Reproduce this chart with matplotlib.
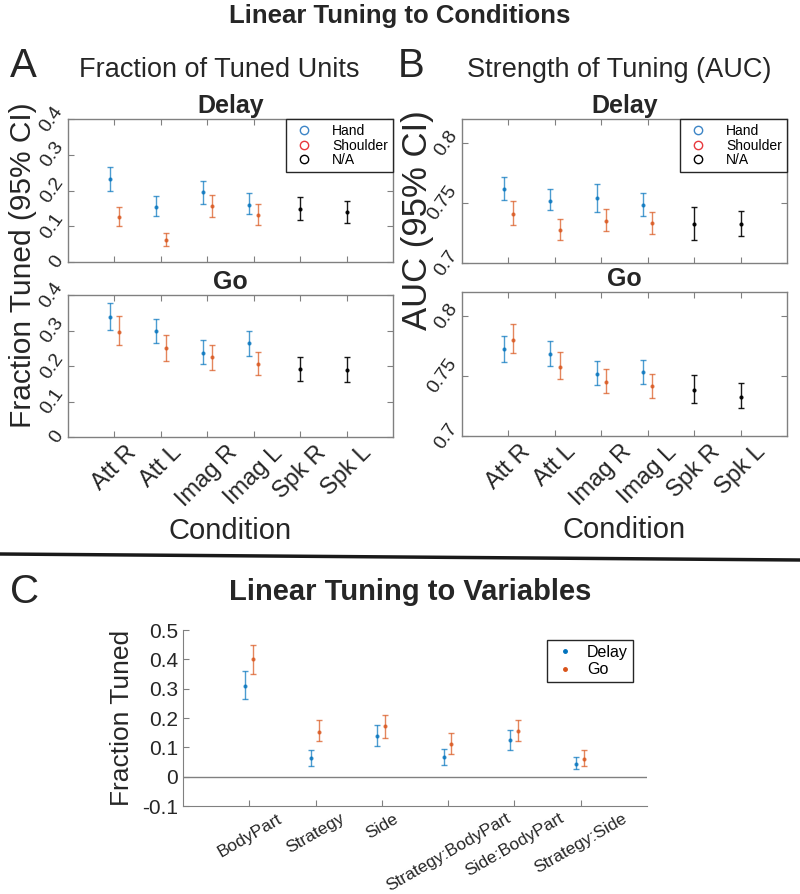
import numpy as np
import matplotlib
matplotlib.use("Agg")
import matplotlib.pyplot as plt
from matplotlib.lines import Line2D

plt.rcParams["font.family"] = ["Liberation Sans", "DejaVu Sans"]

# ---- data ----
conditions = ["Att R", "Att L", "Imag R", "Imag L", "Spk R", "Spk L"]

# fraction tuned, delay (hand / shoulder for first 4, N/A for speech)
frac_delay_hand = [0.231, 0.155, 0.195, 0.160]
frac_delay_hand_lo = [0.200, 0.129, 0.162, 0.133]
frac_delay_hand_hi = [0.267, 0.185, 0.227, 0.192]
frac_delay_sh = [0.125, 0.061, 0.156, 0.131]
frac_delay_sh_lo = [0.100, 0.044, 0.126, 0.103]
frac_delay_sh_hi = [0.153, 0.082, 0.188, 0.161]
frac_delay_na = [0.147, 0.139]
frac_delay_na_lo = [0.117, 0.110]
frac_delay_na_hi = [0.181, 0.172]

frac_go_hand = [0.337, 0.299, 0.237, 0.264]
frac_go_hand_lo = [0.301, 0.264, 0.205, 0.227]
frac_go_hand_hi = [0.377, 0.333, 0.273, 0.298]
frac_go_sh = [0.297, 0.252, 0.225, 0.207]
frac_go_sh_lo = [0.258, 0.214, 0.190, 0.176]
frac_go_sh_hi = [0.340, 0.287, 0.258, 0.240]
frac_go_na = [0.192, 0.188]
frac_go_na_lo = [0.157, 0.156]
frac_go_na_hi = [0.226, 0.225]

auc_delay_hand = [0.7613, 0.7520, 0.7538, 0.7484]
auc_delay_hand_lo = [0.7525, 0.7440, 0.7429, 0.7393]
auc_delay_hand_hi = [0.7714, 0.7618, 0.7657, 0.7580]
auc_delay_sh = [0.7410, 0.7275, 0.7354, 0.7330]
auc_delay_sh_lo = [0.7313, 0.7195, 0.7269, 0.7239]
auc_delay_sh_hi = [0.7516, 0.7365, 0.7453, 0.7429]
auc_delay_na = [0.7321, 0.7321]
auc_delay_na_lo = [0.7195, 0.7223]
auc_delay_na_hi = [0.7467, 0.7434]

auc_go_hand = [0.7725, 0.7680, 0.7519, 0.7531]
auc_go_hand_lo = [0.7620, 0.7583, 0.7428, 0.7433]
auc_go_hand_hi = [0.7836, 0.7789, 0.7625, 0.7633]
auc_go_sh = [0.7803, 0.7578, 0.7450, 0.7414]
auc_go_sh_lo = [0.7694, 0.7472, 0.7356, 0.7320]
auc_go_sh_hi = [0.7930, 0.7697, 0.7556, 0.7517]
auc_go_na = [0.7383, 0.7325]
auc_go_na_lo = [0.7272, 0.7231]
auc_go_na_hi = [0.7506, 0.7439]

variables = ["BodyPart", "Strategy", "Side", "Strategy:BodyPart",
             "Side:BodyPart", "Strategy:Side"]
var_delay = [0.310, 0.062, 0.140, 0.066, 0.124, 0.044]
var_delay_lo = [0.266, 0.036, 0.106, 0.040, 0.092, 0.027]
var_delay_hi = [0.360, 0.092, 0.177, 0.095, 0.160, 0.068]
var_go = [0.400, 0.153, 0.172, 0.113, 0.155, 0.061]
var_go_lo = [0.350, 0.120, 0.133, 0.078, 0.120, 0.038]
var_go_hi = [0.450, 0.192, 0.210, 0.150, 0.194, 0.092]

BLUE = "#0072BD"
ORANGE = "#D95319"
TXT = "#262626"
SPINE = "#808080"

W, H = 800, 894


def rect(x0, y0, x1, y1):
    return [x0 / W, 1 - y1 / H, (x1 - x0) / W, (y1 - y0) / H]


def ebar(ax, x, mid, lo, hi, color, alpha=0.7):
    mid = np.array(mid)
    yerr = [mid - np.array(lo), np.array(hi) - mid]
    ax.errorbar(x, mid, yerr=yerr, fmt=".", ms=4, capsize=2.5, elinewidth=1.0,
                capthick=1.0, color=color, alpha=alpha)


def style_box(ax):
    for s in ax.spines.values():
        s.set_color(SPINE)
        s.set_linewidth(1.0)
    ax.tick_params(direction="in", top=True, right=True, color=SPINE,
                   labelcolor=TXT, length=4)
    ax.tick_params(axis="y", pad=1)


def panel(ax, hand, hlo, hhi, sh, slo, shi, na, nlo, nhi, ylim, yticks,
          yticklabels, title, show_x, legend):
    x = np.arange(1, 7)
    ebar(ax, x[:4] - 0.1, hand, hlo, hhi, BLUE)
    ebar(ax, x[:4] + 0.1, sh, slo, shi, ORANGE)
    ebar(ax, x[4:], na, nlo, nhi, "black", alpha=0.9)
    ax.set_xlim(0, 7)
    ax.set_ylim(*ylim)
    ax.set_xticks(x)
    ax.set_yticks(yticks)
    ax.set_yticklabels(yticklabels, rotation=55, fontsize=14, va="center")
    if show_x:
        ax.set_xticklabels(conditions, rotation=45, fontsize=17, ha="center")
        ax.set_xlabel("Condition", fontsize=21, color=TXT, labelpad=4)
    else:
        ax.set_xticklabels([])
    ax.set_title(title, fontsize=18, fontweight="bold", color=TXT, pad=4)
    style_box(ax)
    if legend:
        handles = [
            Line2D([], [], marker="o", ls="none", mfc="none", mec="#3d85c6", ms=6),
            Line2D([], [], marker="o", ls="none", mfc="none", mec="#e8383d", ms=6),
            Line2D([], [], marker="o", ls="none", mfc="none", mec="black", ms=6),
        ]
        leg = ax.legend(handles, ["Hand", "Shoulder", "N/A"], loc="upper right",
                        fontsize=10, fancybox=False, framealpha=1,
                        edgecolor=TXT, borderaxespad=0, handletextpad=1.0,
                        labelspacing=0.05, borderpad=0.35)
        leg.get_frame().set_linewidth(1.0)


fig = plt.figure(figsize=(8, 8.94), dpi=100)

fig.text(0.5, 1 - 16 / H, "Linear Tuning to Conditions", ha="center",
         va="center", fontsize=18.5, fontweight="bold", color=TXT)
fig.text(10 / W, 1 - 66 / H, "A", fontsize=29, va="center", color=TXT)
fig.text(398 / W, 1 - 66 / H, "B", fontsize=29, va="center", color=TXT)
fig.text(219 / W, 1 - 70 / H, "Fraction of Tuned Units", ha="center",
         va="center", fontsize=19.5, color=TXT)
fig.text(619 / W, 1 - 70 / H, "Strength of Tuning (AUC)", ha="center",
         va="center", fontsize=19.5, color=TXT)

axA1 = fig.add_axes(rect(68, 119, 393, 262))
axA2 = fig.add_axes(rect(68, 295, 393, 437))
axB1 = fig.add_axes(rect(462, 119, 787, 263))
axB2 = fig.add_axes(rect(462, 292, 787, 436))

fr_ticks = [0, 0.1, 0.2, 0.3, 0.4]
fr_lab = ["0", "0.1", "0.2", "0.3", "0.4"]
auc_ticks = [0.7, 0.75, 0.8]
auc_lab = ["0.7", "0.75", "0.8"]

panel(axA1, frac_delay_hand, frac_delay_hand_lo, frac_delay_hand_hi,
      frac_delay_sh, frac_delay_sh_lo, frac_delay_sh_hi,
      frac_delay_na, frac_delay_na_lo, frac_delay_na_hi,
      (0, 0.4), fr_ticks, fr_lab, "Delay", False, True)
panel(axA2, frac_go_hand, frac_go_hand_lo, frac_go_hand_hi,
      frac_go_sh, frac_go_sh_lo, frac_go_sh_hi,
      frac_go_na, frac_go_na_lo, frac_go_na_hi,
      (0, 0.4), fr_ticks, fr_lab, "Go", True, False)
panel(axB1, auc_delay_hand, auc_delay_hand_lo, auc_delay_hand_hi,
      auc_delay_sh, auc_delay_sh_lo, auc_delay_sh_hi,
      auc_delay_na, auc_delay_na_lo, auc_delay_na_hi,
      (0.7, 0.82), auc_ticks, auc_lab, "Delay", False, True)
panel(axB2, auc_go_hand, auc_go_hand_lo, auc_go_hand_hi,
      auc_go_sh, auc_go_sh_lo, auc_go_sh_hi,
      auc_go_na, auc_go_na_lo, auc_go_na_hi,
      (0.7, 0.82), auc_ticks, auc_lab, "Go", True, False)

fig.text(23 / W, 1 - 265 / H, "Fraction Tuned (95% CI)", rotation=90,
         ha="center", va="center", fontsize=21.5, color=TXT)
fig.text(418 / W, 1 - 220 / H, "AUC (95% CI)", rotation=90,
         ha="center", va="center", fontsize=25, color=TXT)

# separator
fig.add_artist(Line2D([0, 1], [1 - 554 / H, 1 - 560 / H],
                      transform=fig.transFigure, color="#1a1a1a", lw=2.5))

# ---- panel C ----
fig.text(10 / W, 1 - 592 / H, "C", fontsize=29, va="center", color=TXT)
fig.text(410 / W, 1 - 592 / H, "Linear Tuning to Variables", ha="center",
         va="center", fontsize=21, fontweight="bold", color=TXT)

axC = fig.add_axes(rect(183, 630, 647, 806))
xc = np.arange(1, 7)
ebar(axC, xc - 0.07, var_delay, var_delay_lo, var_delay_hi, BLUE)
ebar(axC, xc + 0.05, var_go, var_go_lo, var_go_hi, ORANGE)
axC.axhline(0, color=SPINE, lw=1.0)
axC.set_xlim(0, 7)
axC.set_ylim(-0.1, 0.5)
axC.set_xticks(xc)
axC.set_xticklabels(variables, rotation=30, fontsize=12.5, ha="center")
axC.set_yticks([-0.1, 0, 0.1, 0.2, 0.3, 0.4, 0.5])
axC.set_yticklabels(["-0.1", "0", "0.1", "0.2", "0.3", "0.4", "0.5"],
                    fontsize=15)
for s in ["top", "right"]:
    axC.spines[s].set_visible(False)
for s in ["left", "bottom"]:
    axC.spines[s].set_color(SPINE)
axC.tick_params(direction="in", color=SPINE, labelcolor=TXT, length=4)
axC.set_ylabel("Fraction Tuned", fontsize=19, color=TXT, labelpad=6)

hC = [Line2D([], [], marker=".", ls="none", color=BLUE, ms=5),
      Line2D([], [], marker=".", ls="none", color=ORANGE, ms=5)]
legC = axC.legend(hC, ["Delay", "Go"], loc="upper left",
                  bbox_to_anchor=(547 / W, 1 - 640 / H),
                  bbox_transform=fig.transFigure, fontsize=11.5,
                  fancybox=False, framealpha=1, edgecolor=TXT,
                  borderaxespad=0, handletextpad=0.6, handlelength=1.6,
                  labelspacing=0.15, borderpad=0.3)
legC.get_frame().set_linewidth(1.0)

fig.savefig("out.png", dpi=100)
